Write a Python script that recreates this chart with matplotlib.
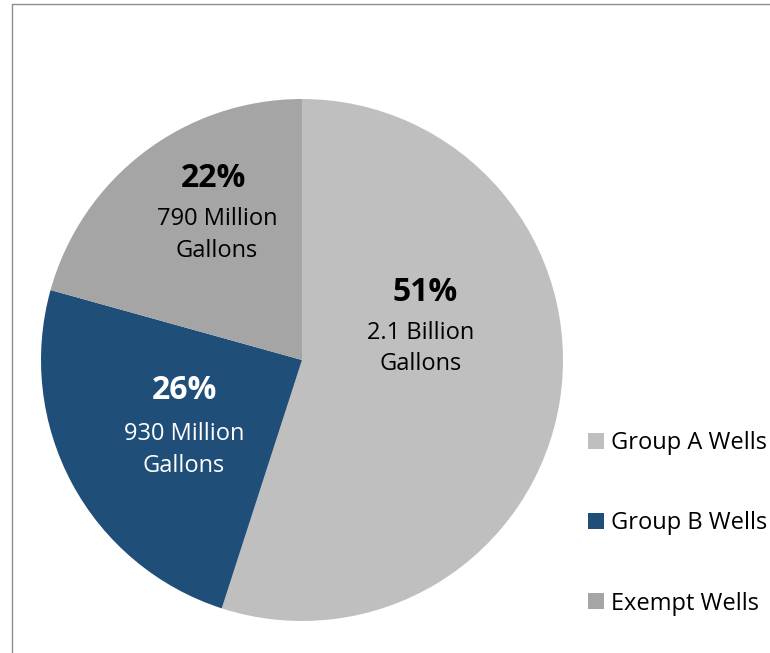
import matplotlib
matplotlib.use("Agg")
from matplotlib import pyplot as plt
from matplotlib.patches import Patch, Rectangle

# Annual water use by well type
categories = ["Group A Wells", "Group B Wells", "Exempt Wells"]
gallons_millions = [2100, 930, 790]
percent_labels = ["51%", "26%", "22%"]
detail_labels = ["2.1 Billion\nGallons", "930 Million\nGallons", "790 Million\nGallons"]

colors = ["#BFBFBF", "#1F4E79", "#A5A5A5"]
text_colors = ["black", "white", "black"]
# label anchors (data units, pie radius = 1): percent line, detail block
pct_pos = [(0.47, 0.26), (-0.45, -0.115), (-0.34, 0.697)]
det_pos = [(0.455, 0.044), (-0.452, -0.344), (-0.326, 0.479)]

plt.rcParams["font.family"] = ["Open Sans", "DejaVu Sans"]

fig = plt.figure(figsize=(7.7, 6.53), dpi=100)
fig.patch.set_facecolor("white")

# partial chart frame (top and left edges)
fig.add_artist(Rectangle((12 / 770, -0.1), 2.0, 1.1 - 3.5 / 653,
                         transform=fig.transFigure, fill=False,
                         edgecolor="#8C8C8C", linewidth=1.0))

ax = fig.add_axes([41 / 770, 32 / 653, 522 / 770, 522 / 653])
wedges, _ = ax.pie(gallons_millions, colors=colors, startangle=90,
                   counterclock=False, radius=1.0,
                   wedgeprops=dict(linewidth=0))
ax.set_xlim(-1, 1)
ax.set_ylim(-1, 1)
ax.set_aspect("equal")
ax.axis("off")

for i in range(len(categories)):
    ax.text(pct_pos[i][0], pct_pos[i][1], percent_labels[i], ha="center",
            va="center", fontsize=23, fontweight="bold", color=text_colors[i])
    ax.text(det_pos[i][0], det_pos[i][1], detail_labels[i], ha="center",
            va="center", fontsize=17, color=text_colors[i], linespacing=1.42)

handles = [Patch(facecolor=c, edgecolor="none") for c in colors]
fig.legend(handles, categories, loc="upper left",
           bbox_to_anchor=(567 / 770, 1 - 410 / 653), frameon=False,
           fontsize=17, handlelength=0.65, handleheight=0.65,
           handletextpad=0.3, labelspacing=2.38)

plt.savefig("out.png", dpi=100)
